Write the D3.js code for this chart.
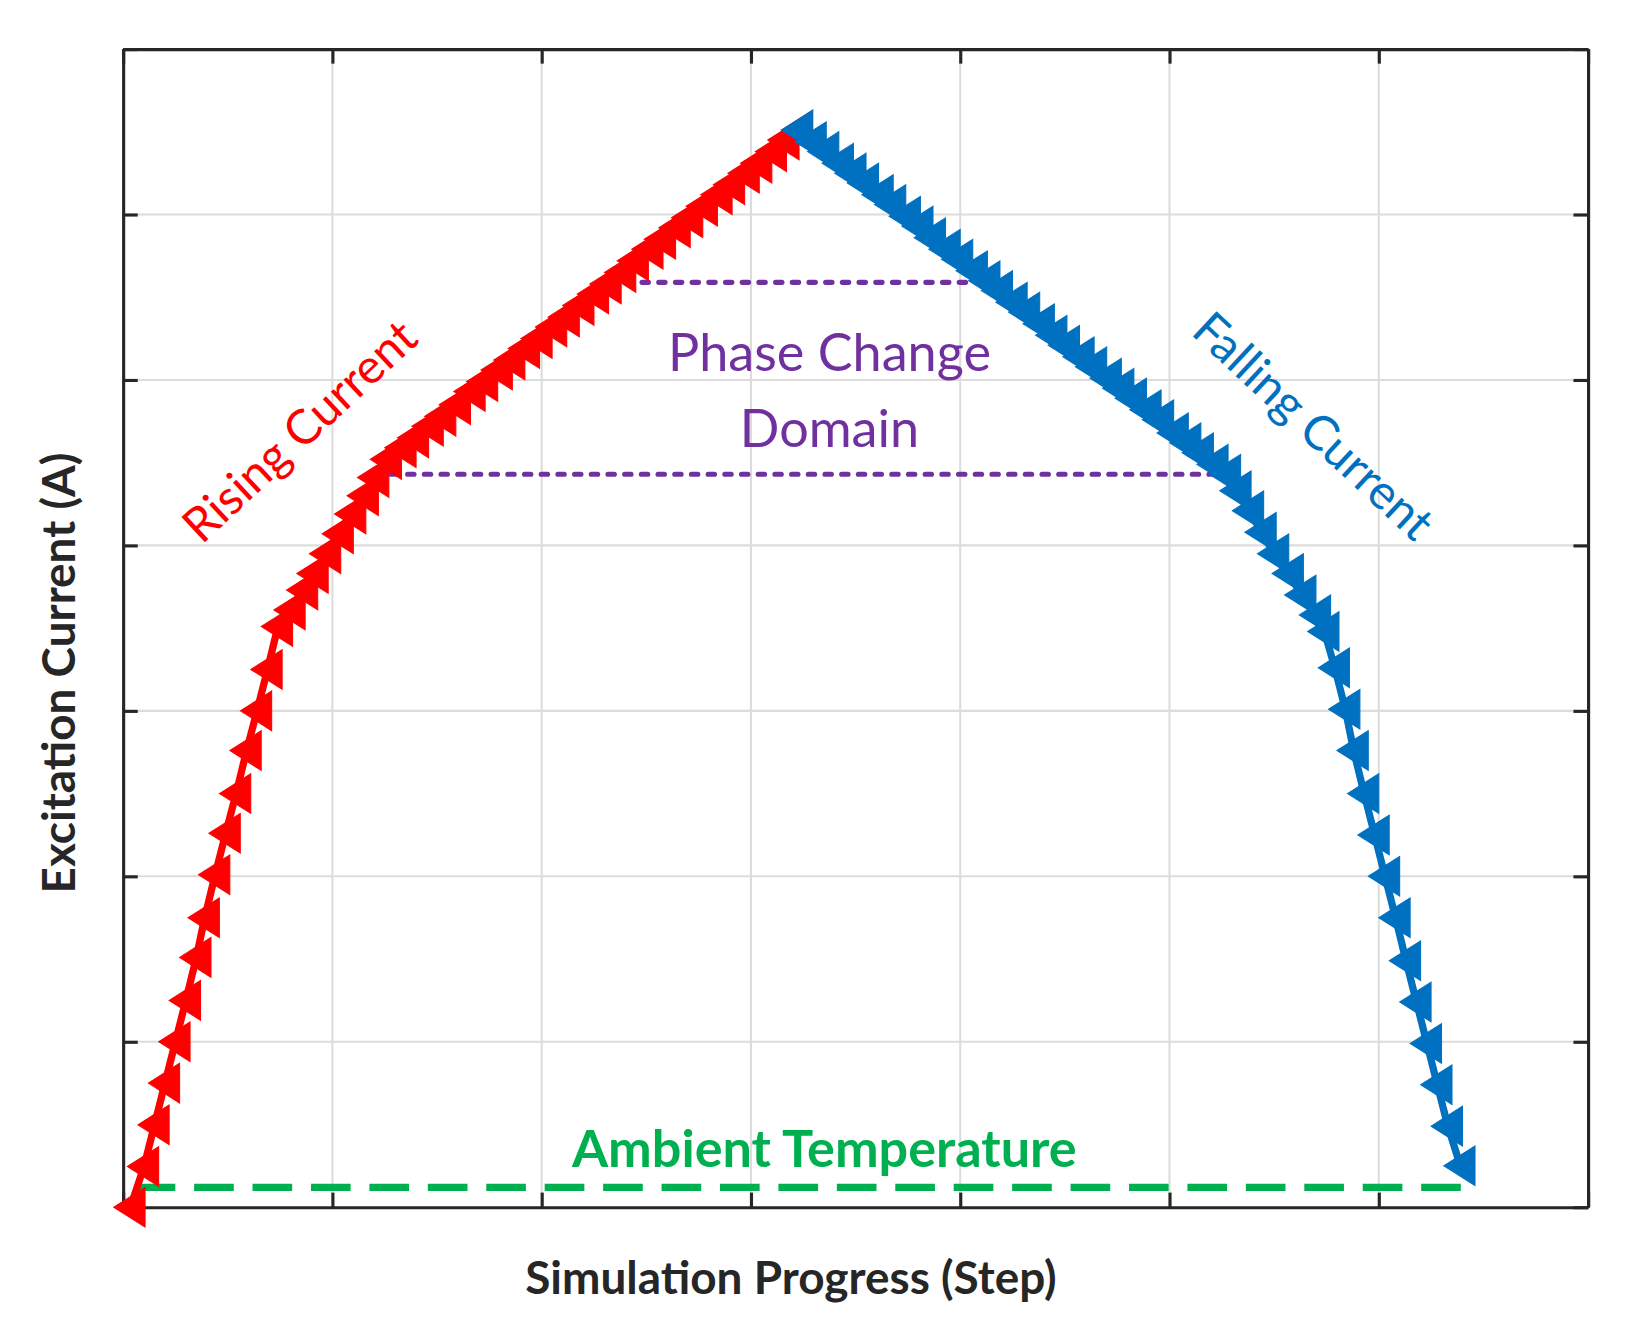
<!DOCTYPE html><html><head><meta charset="utf-8"><script src="https://cdn.jsdelivr.net/npm/d3@7"></script>
<style>body{margin:0;background:#fff}</style></head><body><svg id="c" width="1636" height="1338"></svg><script>
const risingX=[0.035,0.10,0.15,0.20,0.25,0.30,0.35,0.39,0.44,0.49,0.54,0.59,0.64,0.69,0.74,0.80,0.86,0.91,0.97,1.03,1.09,1.15,1.20,1.26,1.33,1.39,1.46,1.52,1.59,1.66,1.72,1.79,1.85,1.92,1.98,2.05,2.11,2.18,2.25,2.31,2.38,2.44,2.51,2.57,2.64,2.70,2.77,2.84,2.90,2.97,3.03,3.10,3.16,3.225];
const risingY=[0,0.246,0.498,0.75,1.0,1.25,1.51,1.75,2.01,2.26,2.50,2.76,3.00,3.25,3.51,3.61,3.73,3.83,3.95,4.07,4.19,4.30,4.41,4.52,4.59,4.65,4.72,4.78,4.85,4.93,4.99,5.06,5.12,5.19,5.25,5.32,5.38,5.45,5.52,5.58,5.65,5.72,5.79,5.85,5.92,5.98,6.05,6.12,6.18,6.25,6.31,6.38,6.45,6.51];
const fallingX=[3.225,3.29,3.35,3.42,3.48,3.54,3.61,3.67,3.74,3.80,3.86,3.93,3.99,4.06,4.12,4.18,4.25,4.31,4.38,4.44,4.50,4.57,4.63,4.70,4.76,4.82,4.89,4.95,5.02,5.08,5.14,5.21,5.27,5.32,5.38,5.44,5.50,5.57,5.63,5.70,5.74,5.79,5.84,5.88,5.93,5.98,6.03,6.08,6.13,6.18,6.23,6.28,6.33,6.39];
const fallingY=[6.51,6.44,6.38,6.31,6.25,6.19,6.12,6.06,5.99,5.93,5.86,5.79,5.73,5.66,5.60,5.54,5.47,5.41,5.34,5.27,5.21,5.14,5.08,5.01,4.95,4.89,4.82,4.76,4.68,4.62,4.56,4.49,4.43,4.33,4.21,4.08,3.95,3.83,3.70,3.58,3.48,3.26,3.01,2.76,2.50,2.25,2.00,1.75,1.49,1.24,0.99,0.74,0.49,0.25];
const ambient={x:[0.06,6.44],y:0.12};
const phaseUpper={x:[2.40,4.12],y:5.59};
const phaseLower={x:[1.28,5.24],y:4.43};
const ticks=[0,1,2,3,4,5,6,7];

const L=118,T=47,W=1404,H=1110;
const root=d3.select("#c");
const svg=root.append("g").attr("transform","scale(1.0434)");
const x=d3.scaleLinear().domain([0,7]).range([L,L+W]);
const y=d3.scaleLinear().domain([0,7]).range([T+H,T]);
const g=svg.append("g");
ticks.slice(1,-1).forEach(t=>{
 g.append("line").attr("x1",x(t)).attr("x2",x(t)).attr("y1",T).attr("y2",T+H).attr("stroke","#dcdcdc").attr("stroke-width",2);
 g.append("line").attr("y1",y(t)).attr("y2",y(t)).attr("x1",L).attr("x2",L+W).attr("stroke","#dcdcdc").attr("stroke-width",2);
});
const ax=(a,tr)=>svg.append("g").attr("transform",tr).call(a).call(s=>{s.selectAll("text").remove();s.selectAll("line,path").attr("stroke","#262626").attr("stroke-width",3);});
ax(d3.axisLeft(y).tickValues(ticks).tickSize(-14).tickSizeOuter(0),`translate(${L},0)`);
ax(d3.axisRight(y).tickValues(ticks).tickSize(-14).tickSizeOuter(0),`translate(${L+W},0)`);
ax(d3.axisBottom(x).tickValues(ticks).tickSize(-14).tickSizeOuter(0),`translate(0,${T+H})`);
ax(d3.axisTop(x).tickValues(ticks).tickSize(-14).tickSizeOuter(0),`translate(0,${T})`);

svg.append("line").attr("x1",x(ambient.x[0])).attr("x2",x(ambient.x[1])).attr("y1",y(ambient.y)).attr("y2",y(ambient.y)).attr("stroke","#00b050").attr("stroke-width",7).attr("stroke-dasharray","38,18");
[phaseUpper,phaseLower].forEach(p=>svg.append("line").attr("x1",x(p.x[0])).attr("x2",x(p.x[1])).attr("y1",y(p.y)).attr("y2",y(p.y)).attr("stroke","#7030a0").attr("stroke-width",5).attr("stroke-dasharray","6,10").attr("stroke-linecap","round"));

const line=d3.line().x(d=>x(d[0])).y(d=>y(d[1]));
const tri="M-16,0L14,-19L14,19Z";
function series(xs,ys,col){
 const d=xs.map((v,i)=>[v,ys[i]]);
 svg.append("path").datum(d).attr("d",line).attr("fill","none").attr("stroke",col).attr("stroke-width",7);
 svg.append("g").selectAll("path").data(d).join("path").attr("d",tri).attr("transform",p=>`translate(${x(p[0])},${y(p[1])})`).attr("fill",col).attr("stroke",col).attr("stroke-width",1);
}
series(risingX,risingY,"#ff0000");
series(fallingX,fallingY,"#0070c0");

const F="Lato, 'Open Sans', sans-serif";
const txt=(s,px,py,col,size,wt,rot)=>svg.append("text").attr("transform",`translate(${px},${py}) rotate(${rot||0})`).attr("text-anchor","middle").attr("font-family",F).attr("font-size",size).attr("font-weight",wt).attr("fill",col).text(s);
txt("Rising Current",298,425,"#ff0000",46,400,-43);
txt("Falling Current",1248,420,"#0070c0",46,400,43);
txt("Phase Change",795,356,"#7030a0",50,400);
txt("Domain",795,428,"#7030a0",50,400);
txt("Ambient Temperature",790,1118,"#00b050",50,700);
txt("Simulation Progress (Step)",758,1240,"#262626",44,700);
txt("Excitation Current (A)",72,645,"#262626",44,700,-90);
</script></body></html>
